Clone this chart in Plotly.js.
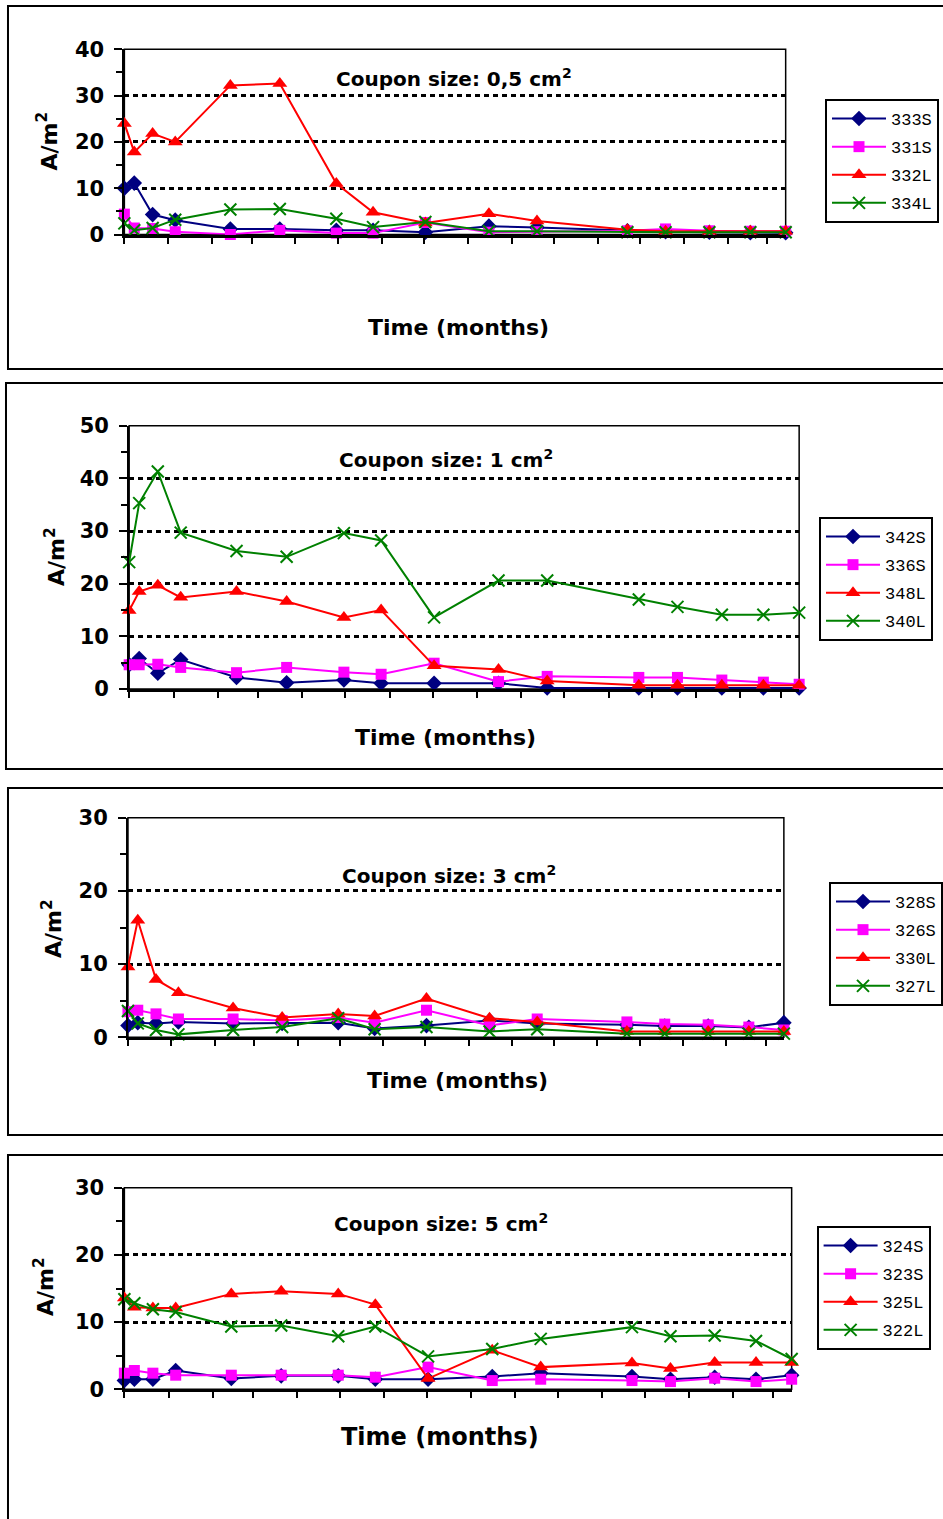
<!DOCTYPE html>
<html><head><meta charset="utf-8">
<script src="https://cdn.plot.ly/plotly-3.0.1.min.js"></script>
<style>html,body{margin:0;padding:0;background:#fff;overflow:hidden}#chart{width:943px;height:1519px}</style>
</head><body><div id="chart"></div>
<script>
// Sampling dates (time axis, monthly ticks)
const dates = ['2000-12-01','2000-12-08','2000-12-21','2001-01-06','2001-02-14','2001-03-21','2001-04-30','2001-05-26',
               '2001-07-02','2001-08-16','2001-09-19','2001-11-22','2001-12-19','2002-01-19','2002-02-17','2002-03-14'];

// Panel 1: coupon size 0,5 cm2
const names1 = ['333S','331S','332L','334L'];
const s333S = [10.0, 11.1, 4.3, 3.1, 1.2, 1.2, 0.9, 0.9, 0.5, 1.8, 1.5, 0.8, 0.6, 0.5, 0.4, 0.4];
const s331S = [4.4, 1.4, 1.3, 0.6, 0.0, 0.9, 0.3, 0.3, 2.6, 0.5, 0.6, 0.8, 1.2, 0.8, 0.7, 0.7];
const s332L = [24.0, 17.8, 21.8, 20.0, 32.2, 32.6, 11.0, 4.8, 2.5, 4.5, 2.9, 1.0, 0.7, 0.7, 0.7, 0.7];
const s334L = [2.4, 0.9, 1.4, 3.2, 5.4, 5.5, 3.4, 1.6, 2.7, 0.7, 0.7, 0.5, 0.5, 0.5, 0.5, 0.5];

// Panel 2: coupon size 1 cm2
const names2 = ['342S','336S','348L','340L'];
const s342S = [4.6, 5.8, 3.0, 5.6, 2.2, 1.2, 1.7, 1.1, 1.1, 1.1, 0.2, 0.2, 0.2, 0.2, 0.2, 0.2];
const s336S = [4.6, 4.6, 4.7, 4.1, 3.1, 4.1, 3.2, 2.8, 4.9, 1.4, 2.4, 2.2, 2.2, 1.7, 1.3, 0.9];
const s348L = [14.9, 18.5, 19.7, 17.4, 18.5, 16.6, 13.6, 15.0, 4.4, 3.7, 1.5, 0.7, 0.7, 0.7, 0.7, 0.7];
const s340L = [24.1, 35.3, 41.3, 29.7, 26.2, 25.1, 29.6, 28.2, 13.6, 20.6, 20.6, 17.0, 15.6, 14.1, 14.1, 14.5];

// Panel 3: coupon size 3 cm2
const names3 = ['328S','326S','330L','327L'];
const s328S = [1.6, 2.0, 1.9, 2.1, 1.9, 1.9, 2.0, 1.2, 1.6, 2.3, 1.9, 1.7, 1.55, 1.55, 1.35, 2.0];
const s326S = [3.5, 3.7, 3.2, 2.5, 2.5, 2.3, 2.7, 2.0, 3.7, 1.6, 2.5, 2.1, 1.8, 1.7, 1.4, 1.0];
const s330L = [9.6, 16.0, 7.9, 6.1, 4.0, 2.7, 3.2, 2.9, 5.3, 2.6, 2.1, 0.8, 0.8, 0.8, 0.8, 0.8];
const s327L = [3.6, 1.9, 1.0, 0.4, 1.0, 1.4, 2.6, 1.1, 1.4, 0.8, 1.1, 0.5, 0.5, 0.5, 0.5, 0.5];

// Panel 4: coupon size 5 cm2
const names4 = ['324S','323S','325L','322L'];
const s324S = [1.3, 1.5, 1.5, 2.8, 1.6, 2.0, 2.0, 1.5, 1.5, 1.9, 2.4, 1.9, 1.5, 1.8, 1.5, 2.1];
const s323S = [2.4, 2.8, 2.4, 2.1, 2.1, 2.1, 2.1, 1.8, 3.3, 1.3, 1.5, 1.3, 1.15, 1.65, 1.15, 1.5];
const s325L = [13.6, 12.2, 12.1, 12.1, 14.2, 14.6, 14.2, 12.6, 1.6, 5.8, 3.3, 3.9, 3.1, 4.0, 4.0, 4.0];
const s322L = [13.4, 12.8, 11.9, 11.5, 9.35, 9.5, 7.9, 9.35, 4.9, 6.0, 7.5, 9.25, 7.9, 8.0, 7.2, 4.5];

const panelTitles = ['Coupon size: 0,5 cm<sup>2</sup>','Coupon size: 1 cm<sup>2</sup>','Coupon size: 3 cm<sup>2</sup>','Coupon size: 5 cm<sup>2</sup>'];
const yMax = [40, 50, 30, 30];
const xTitle = 'Time (months)';
const yTitle = 'A/m<sup>2</sup>';

const panels = [
  {names: names1, series: [s333S, s331S, s332L, s334L]},
  {names: names2, series: [s342S, s336S, s348L, s340L]},
  {names: names3, series: [s328S, s326S, s330L, s327L]},
  {names: names4, series: [s324S, s323S, s325L, s322L]}
];

// ---- styling / geometry ----
const W = 943, H = 1519;
const geom = [
  {x0:124.5, x1:786.5, yb:234.5, yt:49.3, frame:[8,6,1000,369], leg:[825,99], title:[454,78], xt:[459,327], ytl:[47.5,141], xts:22},
  {x0:129.3, x1:800, yb:689, yt:425.7, frame:[6,383,1000,769], leg:[819,517], title:[446,459], xt:[446,737], ytl:[55,556], xts:22},
  {x0:128.1, x1:784.7, yb:1037.3, yt:817.7, frame:[8,788,1000,1135], leg:[830,882], title:[449,875], xt:[458,1080], ytl:[52,928], xts:22},
  {x0:124.5, x1:792.5, yb:1389.3, yt:1187.7, frame:[8,1155,1000,1600], leg:[816.6,1226], title:[441,1223], xt:[440,1437], ytl:[44,1286], xts:24}
];
const styles = [
  {color:'#000080', symbol:'diamond', size:12},
  {color:'#FF00FF', symbol:'square', size:11},
  {color:'#FF0000', symbol:'triangle-up', size:13},
  {color:'#008000', symbol:'x-thin-open', size:12}
];
const boldFont = (s) => ({family:'DejaVu Sans', size:s, color:'#000', weight:'bold'});
const px = (v) => v / W, py = (v) => 1 - v / H;

const traces = [];
const layout = {
  width: W, height: H, margin: {l:0, r:0, t:0, b:0},
  paper_bgcolor: '#fff', plot_bgcolor: '#fff',
  showlegend: true, annotations: [], shapes: []
};

panels.forEach((p, i) => {
  const g = geom[i];
  const n = i + 1;
  const xa = n === 1 ? 'x' : 'x' + n, ya = n === 1 ? 'y' : 'y' + n;
  const lg = n === 1 ? 'legend' : 'legend' + n;
  p.series.forEach((vals, k) => {
    const st = styles[k];
    traces.push({
      type: 'scatter', mode: 'lines+markers', x: dates, y: vals, name: p.names[k],
      xaxis: xa, yaxis: ya, legend: lg, legendgroup: 'g' + n + '_' + k, cliponaxis: false,
      line: {color: st.color, width: 2},
      marker: {symbol: st.symbol, size: st.size, color: st.color,
               line: {color: st.color, width: k === 3 ? 2 : 0}}
    });
  });
  layout['xaxis' + (n === 1 ? '' : n)] = {
    domain: [px(g.x0), px(g.x1)], anchor: ya, type: 'date',
    range: [dates[0], dates[dates.length - 1]], tick0: dates[0], dtick: 'M1',
    ticks: 'outside', ticklen: 6, tickwidth: 2, tickcolor: '#000', showticklabels: false,
    showline: true, linewidth: 3, linecolor: '#000', showgrid: false, zeroline: false, fixedrange: true
  };
  layout['yaxis' + (n === 1 ? '' : n)] = {
    domain: [py(g.yb), py(g.yt)], anchor: xa, range: [0, yMax[i]], tick0: 0, dtick: 10,
    ticks: 'outside', ticklen: 8, tickwidth: 2, tickcolor: '#000', ticklabelstandoff: 6,
    tickfont: boldFont(21),
    minor: {dtick: 5, ticks: 'outside', ticklen: 6, tickwidth: 2, tickcolor: '#000', showgrid: false},
    showline: true, linewidth: 2, linecolor: '#000',
    showgrid: true, gridcolor: '#000', gridwidth: 3, griddash: '5px,4px', zeroline: false, fixedrange: true
  };
  layout[lg] = {
    x: px(g.leg[0]), y: py(g.leg[1]), xanchor: 'left', yanchor: 'top',
    bgcolor: '#fff', bordercolor: '#000', borderwidth: 2,
    font: {family: 'Liberation Mono', size: 17, color: '#000'},
    itemwidth: 54, tracegroupgap: 3, traceorder: 'grouped'
  };
  // plot area border
  layout.shapes.push({type: 'rect', xref: xa + ' domain', yref: ya + ' domain', x0: 0, x1: 1, y0: 0, y1: 1,
    line: {color: '#000', width: 1.5}, layer: 'below'});
  // panel frame
  layout.shapes.push({type: 'rect', xref: 'paper', yref: 'paper',
    x0: px(g.frame[0]), x1: px(g.frame[2]), y0: py(g.frame[3]), y1: py(g.frame[1]),
    line: {color: '#000', width: 2}});
  layout.annotations.push({xref: 'paper', yref: 'paper', x: px(g.title[0]), y: py(g.title[1]),
    xanchor: 'center', yanchor: 'middle', showarrow: false, text: panelTitles[i], font: boldFont(20)});
  layout.annotations.push({xref: 'paper', yref: 'paper', x: px(g.xt[0]), y: py(g.xt[1]),
    xanchor: 'center', yanchor: 'middle', showarrow: false, text: xTitle, font: boldFont(g.xts)});
  layout.annotations.push({xref: 'paper', yref: 'paper', x: px(g.ytl[0]), y: py(g.ytl[1]),
    xanchor: 'center', yanchor: 'middle', showarrow: false, text: yTitle, textangle: -90, font: boldFont(22)});
});

Plotly.newPlot('chart', traces, layout, {displayModeBar: false, staticPlot: true});
</script>
</body></html>
